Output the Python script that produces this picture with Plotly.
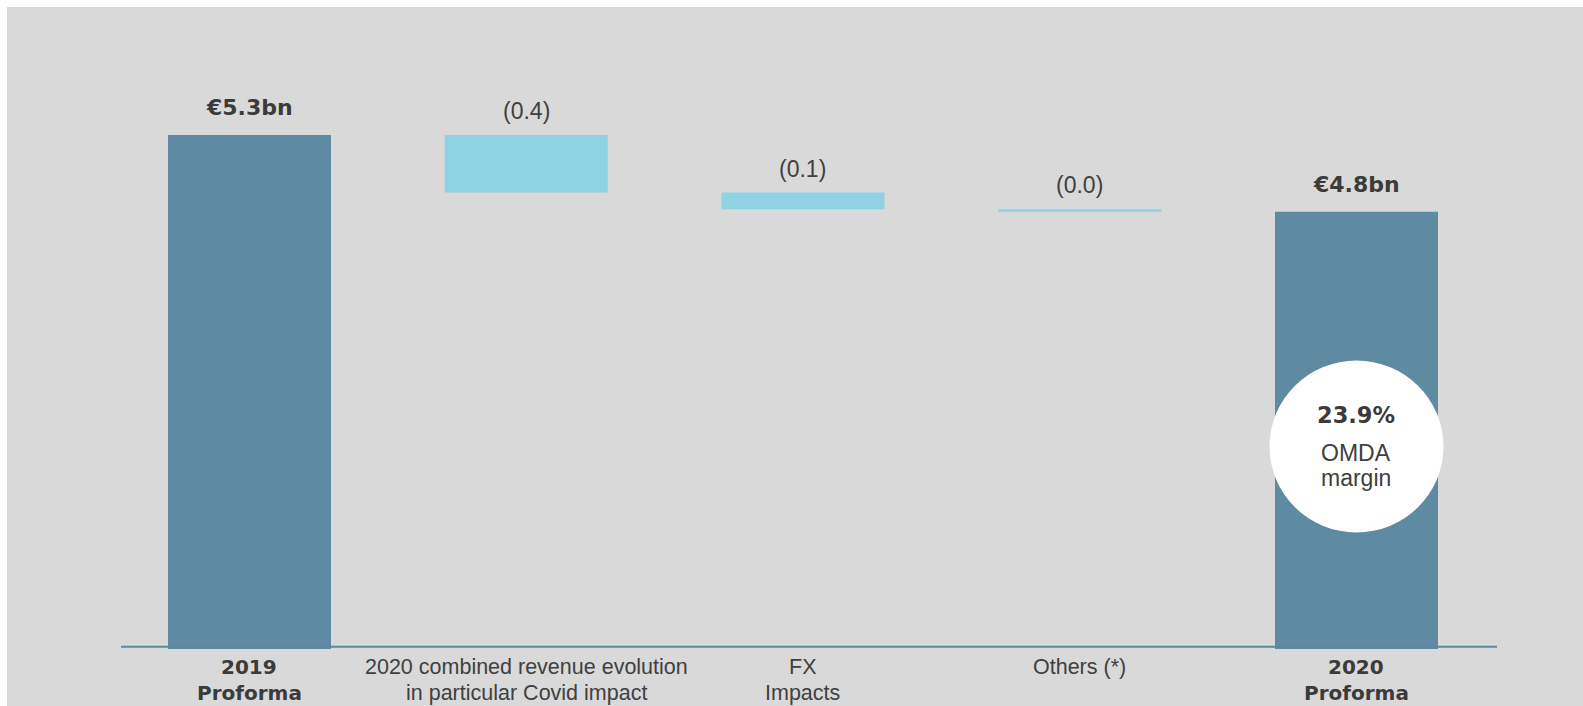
import plotly.graph_objects as go

# ---------------- data ----------------
categories = ["2019 Proforma", "2020 combined revenue evolution in particular Covid impact",
              "FX Impacts", "Others (*)", "2020 Proforma"]
measures = ["absolute", "relative", "relative", "relative", "total"]
values = [5.3, -0.37, -0.107, -0.016, 0]
value_labels = ["€5.3bn", "(0.4)", "(0.1)", "(0.0)", "€4.8bn"]
label_lines = [["2019", "Proforma"],
               ["2020 combined revenue evolution", "in particular Covid impact"],
               ["FX", "Impacts"],
               ["Others (*)"],
               ["2020", "Proforma"]]
label_bold = [True, False, False, False, True]
margin_value = "23.9%"
margin_lines = ["OMDA", "margin"]

# ---------------- styles ----------------
BG = "#d9d9d9"
DARK = "#5e8ba1"
LIGHT = "#8ed2e4"
TXT = "#3b3b3b"
TXT_REG = "#404040"
BOLD_FONT = "DejaVu Sans"
REG_FONT = "Liberation Sans, Arial"

W, H = 1583, 706
ML, MR, MT, MB = 121, 86, 7, 57
PW, PH = W - ML - MR, H - MT - MB

fig = go.Figure(go.Waterfall(
    x=categories, y=values, measure=measures,
    width=[0.589] * len(categories),
    connector=dict(visible=False),
    totals=dict(marker=dict(color=DARK, line=dict(width=0))),
    decreasing=dict(marker=dict(color=LIGHT, line=dict(width=0))),
    increasing=dict(marker=dict(color=LIGHT, line=dict(width=0))),
    hoverinfo="skip", textinfo="none",
))

# running tops of the bars (for label placement)
tops = []
cum = 0.0
for m, v in zip(measures, values):
    if m == "absolute":
        cum = v
        tops.append(cum)
    elif m == "relative":
        start = cum
        cum = cum + v
        tops.append(max(start, cum))
    else:
        tops.append(cum)

annotations = []
for i, (cat, lab) in enumerate(zip(categories, value_labels)):
    bold = i in (0, len(categories) - 1)
    annotations.append(dict(
        x=cat, y=tops[i], xref="x", yref="y", text=f"<b>{lab}</b>" if bold else lab,
        showarrow=False, yanchor="middle", xanchor="center",
        yshift=27 if bold else 24,
        font=dict(family=BOLD_FONT if bold else REG_FONT, size=22 if bold else 23,
                  color=TXT if bold else TXT_REG)))

line_shift = [-18, -44]
for i, (cat, lines) in enumerate(zip(categories, label_lines)):
    for j, ln in enumerate(lines):
        annotations.append(dict(
            x=cat, y=0, xref="x", yref="paper",
            text=f"<b>{ln}</b>" if label_bold[i] else ln,
            showarrow=False, yanchor="middle", xanchor="center", yshift=line_shift[j],
            font=dict(family=BOLD_FONT if label_bold[i] else REG_FONT,
                      size=20 if label_bold[i] else 21.5,
                      color=TXT if label_bold[i] else TXT_REG)))

# circle with OMDA margin on the last bar
CIRCLE_Y = 3.3
last = categories[-1]
annotations.append(dict(x=last, y=CIRCLE_Y, xref="x", yref="y", text=f"<b>{margin_value}</b>",
                        showarrow=False, yanchor="middle", yshift=32,
                        font=dict(family=BOLD_FONT, size=22.5, color=TXT)))
annotations.append(dict(x=last, y=CIRCLE_Y, xref="x", yref="y", text=margin_lines[0],
                        showarrow=False, yanchor="middle", yshift=-6,
                        font=dict(family=REG_FONT, size=23, color=TXT_REG)))
annotations.append(dict(x=last, y=CIRCLE_Y, xref="x", yref="y", text=margin_lines[1],
                        showarrow=False, yanchor="middle", yshift=-31,
                        font=dict(family=REG_FONT, size=23, color=TXT_REG)))

shapes = [
    # white frame strips (top and left)
    dict(type="rect", xref="paper", yref="paper", x0=-ML / PW, x1=1 + MR / PW,
         y0=1 + (MT - 7) / PH, y1=1 + MT / PH + 0.01, fillcolor="white", line=dict(width=0), layer="below"),
    dict(type="rect", xref="paper", yref="paper", x0=-ML / PW - 0.01, x1=-(ML - 7) / PW,
         y0=-MB / PH - 0.01, y1=1 + MT / PH + 0.01, fillcolor="white", line=dict(width=0), layer="below"),
    # baseline
    dict(type="line", xref="paper", yref="paper", x0=0, x1=1, y0=2.3 / PH, y1=2.3 / PH,
         line=dict(color="#5a89a0", width=2), layer="above"),
    # circle
    dict(type="circle", xref="x", yref="y", xsizemode="pixel", ysizemode="pixel",
         xanchor=len(categories) - 1, yanchor=CIRCLE_Y, x0=-87, x1=87, y0=-86, y1=86,
         fillcolor="white", line=dict(width=0), layer="above"),
]

fig.update_layout(
    width=W, height=H, margin=dict(l=ML, r=MR, t=MT, b=MB, pad=0),
    paper_bgcolor=BG, plot_bgcolor=BG, showlegend=False,
    xaxis=dict(type="category", range=[-0.4643, 4.5077], showticklabels=False,
               showgrid=False, zeroline=False, showline=False, ticks=""),
    yaxis=dict(range=[2.0, 2.0 + PH / 155.76], showticklabels=False, showgrid=False,
               zeroline=False, showline=False, ticks=""),
    annotations=annotations, shapes=shapes,
)

fig.write_html("out.html")
